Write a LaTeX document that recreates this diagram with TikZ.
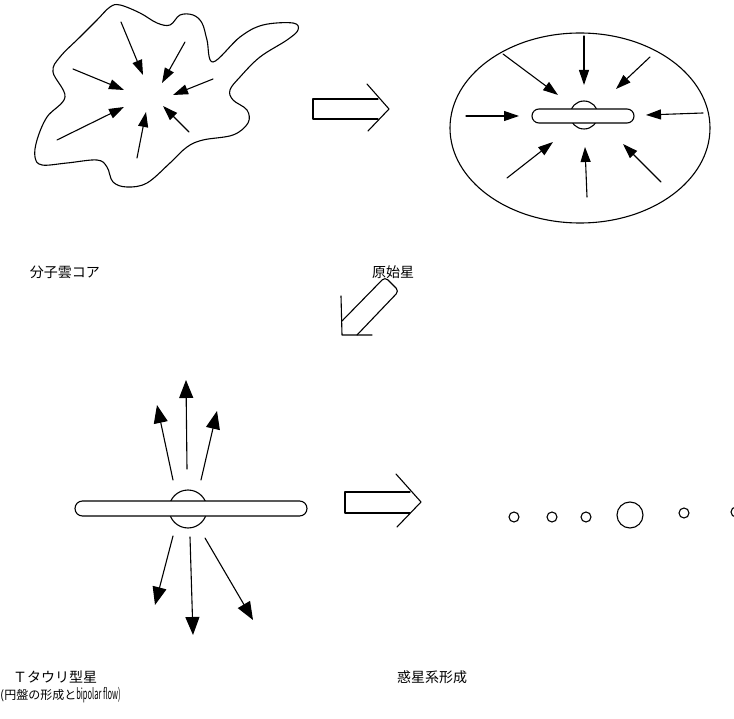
\documentclass[tikz,border=0pt]{standalone}
\usepackage{fontspec}
\setmainfont{Noto Sans CJK JP}
\usetikzlibrary{arrows.meta}
\tikzset{
  ln/.style={line width=1.1pt, line cap=round, line join=round},
  inarr/.style={ln, -{Triangle[length=15pt,width=10pt]}},
  outarr/.style={ln, -{Triangle[length=18pt,width=14pt]}},
  lbl/.style={font=\fontsize{14}{16}\selectfont, inner sep=0pt},
}
\begin{document}
\begin{tikzpicture}[x=1pt,y=-1pt]
\useasboundingbox (0,0) rectangle (734,719);
% molecular cloud core
\draw[ln] plot[smooth cycle, tension=0.6] coordinates {
 (53,72) (65,97) (47,117) (37,140) (35,157) (42,165) (67,163) (97,160) (107,167)
 (113,182) (127,187) (147,183) (170,163) (187,147) (203,140) (233,135) (248,123)
 (247,110) (233,100) (230,90) (240,77) (260,57) (287,40) (298,30) (293,23) (263,25)
 (240,37) (213,62) (207,40) (202,23) (193,15) (180,15) (170,25) (157,23) (140,13)
 (120,5) (110,7) (97,20) (80,37) (60,57)};
\draw[inarr] (121,22) -- (143,75);
\draw[inarr] (185,42) -- (162,83);
\draw[inarr] (73,69) -- (124,90);
\draw[inarr] (213,79) -- (173,95);
\draw[inarr] (57,140) -- (124,107);
\draw[inarr] (137,158) -- (146,112);
\draw[inarr] (189,132) -- (163,106);
% open arrow 1
\draw[ln] (378,99) -- (313,99) -- (313,119) -- (378,119);
\draw[ln] (367,84) -- (389,109) -- (368,131);
% protostar
\draw[ln] (580,128) ellipse [x radius=130, y radius=95];
\draw[ln] (584,115) circle [radius=14];
\draw[ln, fill=white, rounded corners=7pt] (532,109) rectangle (634,123);
\draw[inarr] (503,54) -- (558,95);
\draw[inarr] (584,36) -- (584,85);
\draw[inarr] (650,57) -- (616,89);
\draw[inarr] (466,116) -- (519,116);
\draw[inarr] (703,113) -- (646,115);
\draw[inarr] (507,178) -- (553,142);
\draw[inarr] (587,197) -- (585,147);
\draw[inarr] (661,182) -- (623,144);
% diagonal open arrow
\draw[ln, rounded corners=4pt] (342,321) -- (385,277) -- (399,291) -- (357,335);
\draw[ln] (341,296) -- (342,335) -- (372,335);
% T Tauri star
\draw[ln] (188,509) circle [radius=19];
\draw[ln, fill=white, rounded corners=7.5pt] (75,501) rectangle (307,516);
\draw[outarr] (173,480) -- (157,405);
\draw[outarr] (187,469) -- (186,380);
\draw[outarr] (201,480) -- (217,411);
\draw[outarr] (173,536) -- (155,605);
\draw[outarr] (190,537) -- (193,635);
\draw[outarr] (205,538) -- (253,620);
% open arrow 2
\draw[ln] (410,492) -- (345,492) -- (345,513) -- (410,513);
\draw[ln] (396,474) -- (421,502) -- (397,527);
% planets
\draw[ln] (514,517) circle [radius=5];
\draw[ln] (552,517) circle [radius=5];
\draw[ln] (586,517) circle [radius=5];
\draw[ln] (630,515) circle [radius=13];
\draw[ln] (684,513) circle [radius=5];
\draw[ln] (736,512) circle [radius=5];
% labels
\node[lbl] (l1) at (65,272) {分子雲コア};
\node[lbl] (l2) at (393,272) {原始星};
\node[lbl, anchor=west] (l3) at (13,677) {Ｔタウリ型星};
\node[lbl, anchor=west] (l4) at (0,695) {\fontsize{12}{14}\selectfont(円盤の形成と\scalebox{0.5}[1]{\fontsize{15}{17}\selectfont bipolar flow)}};
\node[lbl] (l5) at (432,677) {惑星系形成};
\end{tikzpicture}
\end{document}
